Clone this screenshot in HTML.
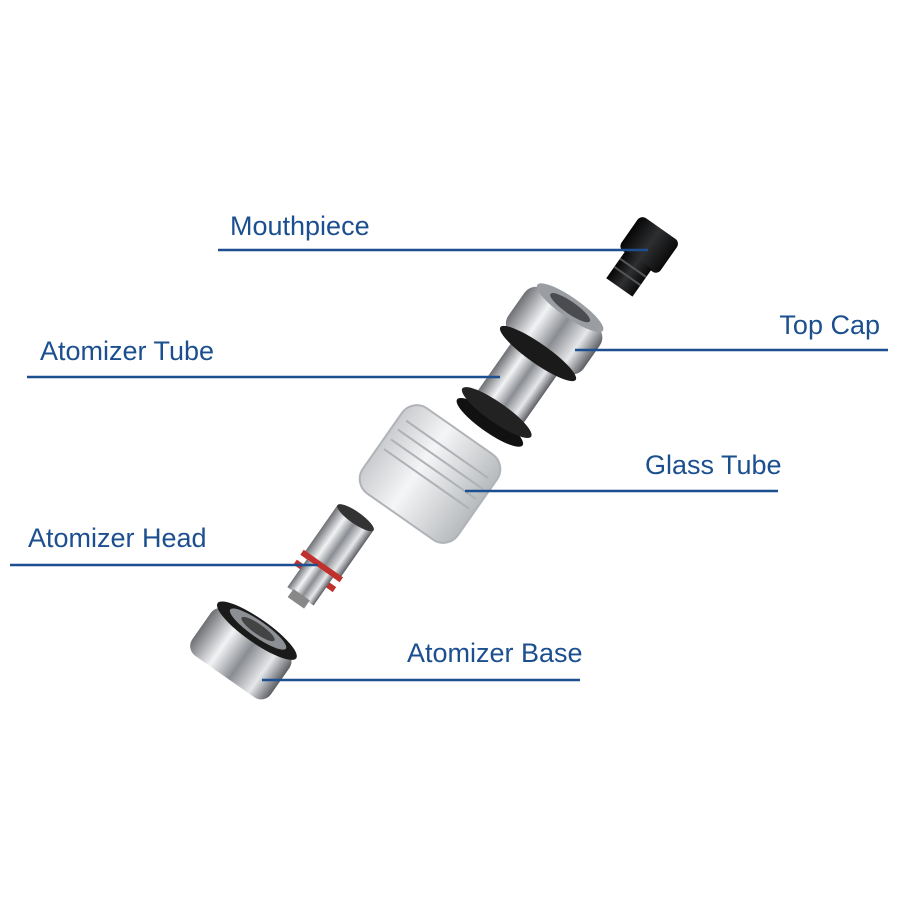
<!DOCTYPE html>
<html><head><meta charset="utf-8"><style>
html,body{margin:0;padding:0;background:#fff}
svg{display:block}
text{font-family:"Liberation Sans",sans-serif;font-size:27px;fill:#1b4f8f}
</style></head><body>
<svg width="900" height="900" viewBox="0 0 900 900">
<defs>
<linearGradient id="m" x1="0" y1="0" x2="1" y2="0">
<stop offset="0" stop-color="#6d6f73"/><stop offset="0.3" stop-color="#f2f3f5"/><stop offset="0.55" stop-color="#8a8d92"/><stop offset="0.8" stop-color="#e6e7ea"/><stop offset="1" stop-color="#5b5e63"/></linearGradient>
<linearGradient id="g" x1="0" y1="0" x2="1" y2="0">
<stop offset="0" stop-color="#c9cbce"/><stop offset="0.4" stop-color="#f4f5f6"/><stop offset="1" stop-color="#b7babd"/></linearGradient>
<linearGradient id="b" x1="0" y1="0" x2="1" y2="0">
<stop offset="0" stop-color="#050505"/><stop offset="0.5" stop-color="#2e2f31"/><stop offset="1" stop-color="#0a0a0a"/></linearGradient>
</defs>

<!-- Mouthpiece -->
<g transform="translate(640,258) rotate(35)">
<rect x="-24" y="-36" width="48" height="40" rx="6" fill="url(#b)"/>
<rect x="-16" y="2" width="32" height="34" fill="url(#b)"/>
<line x1="-16" y1="12" x2="16" y2="12" stroke="#555" stroke-width="2"/>
<line x1="-16" y1="22" x2="16" y2="22" stroke="#555" stroke-width="2"/>
</g>

<!-- Atomizer tube + top cap -->
<g transform="translate(530,365) rotate(35)">
<rect x="-28" y="-10" width="56" height="80" fill="url(#m)"/>
<ellipse cx="0" cy="70" rx="40" ry="10" fill="#111"/>
<ellipse cx="0" cy="58" rx="42" ry="10" fill="#222"/>
<rect x="-46" y="-70" width="92" height="56" rx="14" fill="url(#m)"/>
<ellipse cx="0" cy="-14" rx="46" ry="10" fill="#1a1a1a"/>
<ellipse cx="0" cy="-70" rx="40" ry="10" fill="#9a9da2"/>
<ellipse cx="0" cy="-70" rx="24" ry="6" fill="#4a4c50"/>
</g>

<!-- Glass tube -->
<g transform="translate(430,474) rotate(35)">
<rect x="-58" y="-52" width="116" height="104" rx="18" fill="url(#g)" stroke="#b0b3b7" stroke-width="2"/>
<line x1="-50" y1="-30" x2="50" y2="-30" stroke="#aeb1b5" stroke-width="2"/>
<line x1="-52" y1="-18" x2="52" y2="-18" stroke="#aeb1b5" stroke-width="2"/>
<line x1="-52" y1="-6" x2="52" y2="-6" stroke="#aeb1b5" stroke-width="2"/>
<line x1="-52" y1="6" x2="52" y2="6" stroke="#aeb1b5" stroke-width="2"/>
</g>

<!-- Atomizer head -->
<g transform="translate(328,557) rotate(35)">
<rect x="-22" y="-48" width="44" height="60" fill="url(#m)"/>
<ellipse cx="0" cy="-48" rx="22" ry="6" fill="#333"/>
<rect x="-24" y="8" width="48" height="6" fill="#c0302c"/>
<rect x="-24" y="20" width="48" height="6" fill="#c0302c"/>
<rect x="-16" y="14" width="32" height="34" fill="url(#m)"/>
<rect x="-10" y="46" width="20" height="10" fill="#888"/>
</g>

<!-- Atomizer base -->
<g transform="translate(242,652) rotate(35)">
<rect x="-48" y="-26" width="96" height="56" rx="12" fill="url(#m)"/>
<ellipse cx="0" cy="-26" rx="48" ry="12" fill="#1a1a1a"/>
<ellipse cx="0" cy="-28" rx="34" ry="8" fill="#8c8f94"/>
<ellipse cx="0" cy="-28" rx="20" ry="5" fill="#444"/>
</g>

<!-- Labels -->
<g stroke="#1b4f8f" stroke-width="2.5">
<line x1="218" y1="250" x2="648" y2="250"/>
<line x1="575" y1="350" x2="888" y2="350"/>
<line x1="27" y1="377" x2="500" y2="377"/>
<line x1="465" y1="491" x2="778" y2="491"/>
<line x1="10" y1="565" x2="318" y2="565"/>
<line x1="262" y1="680" x2="580" y2="680"/>
</g>
<text x="230" y="235">Mouthpiece</text>
<text x="880" y="334" text-anchor="end">Top Cap</text>
<text x="40" y="360">Atomizer Tube</text>
<text x="645" y="474">Glass Tube</text>
<text x="28" y="547">Atomizer Head</text>
<text x="407" y="662">Atomizer Base</text>
</svg>
</body></html>
